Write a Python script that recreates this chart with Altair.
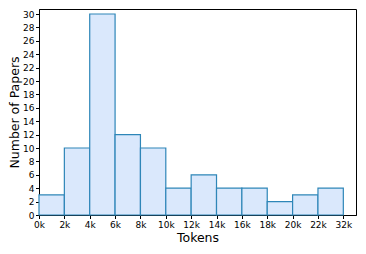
import altair as alt
import pandas as pd

edge_labels = ["0k", "2k", "4k", "6k", "8k", "10k", "12k", "14k", "16k", "18k", "20k", "22k", "32k"]
counts = [3, 10, 30, 12, 10, 4, 6, 4, 4, 2, 3, 4]

df = pd.DataFrame({
    "start": list(range(len(counts))),
    "end": [i + 1 for i in range(len(counts))],
    "count": counts,
})

label_expr = "[" + ",".join(f"'{l}'" for l in edge_labels) + "][datum.value]"

chart = alt.Chart(df).mark_rect(
    fill="#dae8fc", stroke="#2e86b8", strokeWidth=1.2
).encode(
    x=alt.X("start:Q", title="Tokens",
            scale=alt.Scale(domain=[0, 12.5], nice=False, zero=False),
            axis=alt.Axis(values=list(range(len(edge_labels))), labelExpr=label_expr,
                          grid=False, tickSize=3.5, labelFontSize=9, titleFontSize=12.5,
                          domainColor="black", tickColor="black", labelColor="black",
                          titleColor="black", titleFontWeight="normal", labelPadding=2,
                          titlePadding=2, labelFlush=False)),
    x2="end:Q",
    y=alt.Y("count:Q", title="Number of Papers",
            scale=alt.Scale(domain=[0, 30.75], nice=False),
            axis=alt.Axis(values=list(range(0, 31, 2)), grid=False, tickSize=3.5,
                          labelFontSize=9, titleFontSize=12.5, domainColor="black",
                          tickColor="black", labelColor="black", titleColor="black",
                          titleFontWeight="normal", labelPadding=1.5, titlePadding=1)),
    y2=alt.datum(0),
).properties(
    width=317, height=206,
    autosize=alt.AutoSizeParams(type="none"),
    padding={"left": 31, "top": 1, "right": 2, "bottom": 31},
).configure(
    font="DejaVu Sans"
).configure_view(
    stroke="black", strokeWidth=1
)

chart.save("out.html", embed_options={"renderer": "svg", "actions": False})
